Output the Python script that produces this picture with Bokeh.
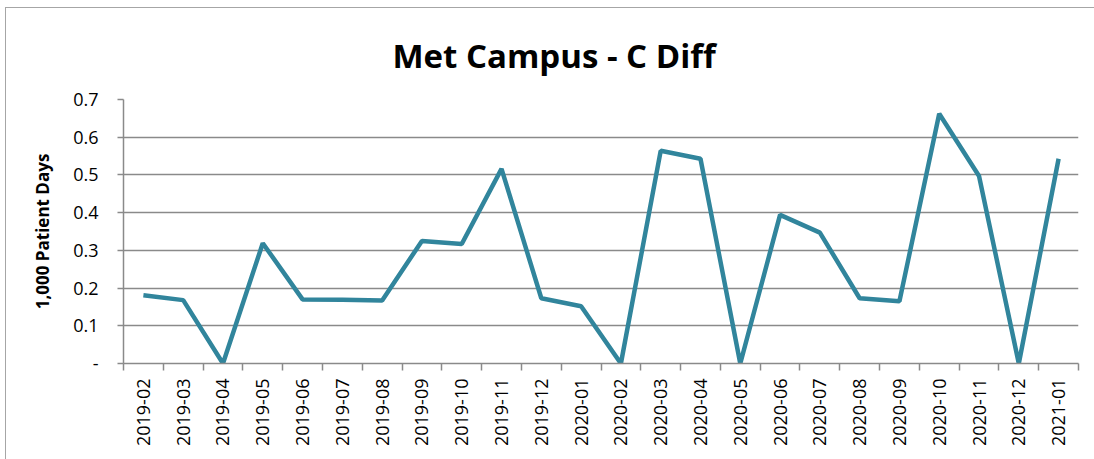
import math
from bokeh.plotting import figure
from bokeh.models import Range1d, FixedTicker, Title
from bokeh.embed import file_html
from bokeh.resources import INLINE

months = ["2019-02", "2019-03", "2019-04", "2019-05", "2019-06", "2019-07",
          "2019-08", "2019-09", "2019-10", "2019-11", "2019-12", "2020-01",
          "2020-02", "2020-03", "2020-04", "2020-05", "2020-06", "2020-07",
          "2020-08", "2020-09", "2020-10", "2020-11", "2020-12", "2021-01"]
rates = [0.181, 0.168, 0.0, 0.319, 0.170, 0.169, 0.167, 0.325, 0.317, 0.516,
         0.173, 0.152, 0.0, 0.564, 0.543, 0.0, 0.394, 0.347, 0.173, 0.165,
         0.662, 0.497, 0.0, 0.543]
y_ticks = [0.0, 0.1, 0.2, 0.3, 0.4, 0.5, 0.6, 0.7]
y_labels = ["-", "0.1", "0.2", "0.3", "0.4", "0.5", "0.6", "0.7"]
title_text = "Met Campus - C Diff"

FONT = "Open Sans"
GRID = "#8a8a8a"

xs = list(range(len(months)))

p = figure(width=1089, height=452, output_backend="svg", toolbar_location=None,
           x_range=Range1d(-0.5, len(months) - 0.5), y_range=Range1d(0, 0.7),
           min_border_left=117, min_border_right=17, min_border_top=91,
           min_border_bottom=97)
p.styles = {"border-left": "1.5px solid #a6a6a6", "border-top": "1.5px solid #a6a6a6",
            "box-sizing": "border-box", "margin-left": "5px", "margin-top": "7px"}
p.outline_line_color = None
p.background_fill_color = "white"

p.title = Title(text=title_text, align="left", offset=269,
                text_font=FONT, text_font_size="33px", text_font_style="bold",
                text_color="#000000", standoff=43)

p.line(xs, rates, line_color="#31859C", line_width=4.5)

# x axis
p.xaxis.ticker = FixedTicker(ticks=xs, minor_ticks=[i - 0.5 for i in range(len(months) + 1)])
p.xaxis.major_label_overrides = {i: m for i, m in enumerate(months)}
p.xaxis.major_label_orientation = math.pi / 2
p.xaxis.major_tick_line_color = None
p.xaxis.minor_tick_line_color = GRID
p.xaxis.minor_tick_line_width = 1.5
p.xaxis.minor_tick_out = 7
p.xaxis.minor_tick_in = 0
p.xaxis.axis_line_color = GRID
p.xaxis.axis_line_width = 1.5
p.xaxis.major_label_text_font = FONT
p.xaxis.major_label_text_font_size = "18px"
p.xaxis.major_label_text_color = "#000000"
p.xaxis.major_label_standoff = 8
p.xgrid.grid_line_color = None

# y axis
p.yaxis.ticker = FixedTicker(ticks=y_ticks)
p.yaxis.major_label_overrides = {t: l for t, l in zip(y_ticks, y_labels)}
p.yaxis.major_tick_line_color = GRID
p.yaxis.major_tick_line_width = 1.5
p.yaxis.major_tick_out = 6
p.yaxis.major_tick_in = 0
p.yaxis.minor_tick_line_color = None
p.yaxis.axis_line_color = GRID
p.yaxis.axis_line_width = 1.5
p.yaxis.major_label_text_font = FONT
p.yaxis.major_label_text_font_size = "18px"
p.yaxis.major_label_text_color = "#000000"
p.yaxis.major_label_standoff = 19
p.yaxis.axis_label = "1,000 Patient Days"
p.yaxis.axis_label_text_font = FONT
p.yaxis.axis_label_text_font_size = "17px"
p.yaxis.axis_label_text_font_style = "bold"
p.yaxis.axis_label_text_color = "#000000"
p.yaxis.axis_label_standoff = 16
p.ygrid.grid_line_color = GRID
p.ygrid.grid_line_width = 1.5

open("out.html", "w").write(file_html(p, INLINE))
